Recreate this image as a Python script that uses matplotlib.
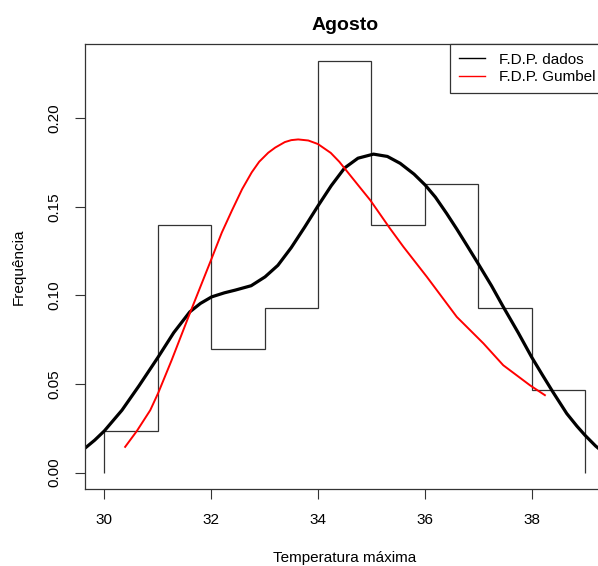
import numpy as np
import matplotlib
matplotlib.use("Agg")
import matplotlib.pyplot as plt
from matplotlib.lines import Line2D

plt.rcParams['font.family'] = ['Liberation Sans', 'DejaVu Sans']

# histogram (relative frequency per 1 degree class)
edges = [30, 31, 32, 33, 34, 35, 36, 37, 38, 39]
freq = [0.0233, 0.1395, 0.0698, 0.0930, 0.2326, 0.1395, 0.1628, 0.0930, 0.0465]

# F.D.P. dados (kernel density)
dens_x = [29.64, 29.82, 30.00, 30.33, 30.65, 31.01, 31.30, 31.60, 31.80, 32.01,
          32.25, 32.45, 32.75, 33.01, 33.25, 33.50, 33.75, 34.00, 34.25, 34.50,
          34.75, 35.04, 35.30, 35.54, 35.80, 36.01, 36.20, 36.41, 36.60, 36.80,
          37.00, 37.25, 37.47, 37.75, 38.00, 38.20, 38.40, 38.66, 38.85, 39.00,
          39.20, 39.36]
dens_y = [0.0138, 0.0183, 0.0235, 0.0352, 0.0490, 0.0653, 0.0790, 0.0907, 0.0955, 0.0992,
          0.1015, 0.1030, 0.1055, 0.1105, 0.1170, 0.1270, 0.1385, 0.1505, 0.1620, 0.1720,
          0.1775, 0.1798, 0.1785, 0.1746, 0.1685, 0.1623, 0.1555, 0.1463, 0.1375, 0.1278,
          0.1180, 0.1055, 0.0936, 0.0790, 0.0653, 0.0553, 0.0455, 0.0333, 0.0262, 0.0211,
          0.0150, 0.0110]

# F.D.P. Gumbel
gum_x = [30.39, 30.61, 30.86, 31.01, 31.26, 31.60, 32.01, 32.20, 32.39, 32.58,
         32.76, 32.90, 33.07, 33.20, 33.38, 33.50, 33.63, 33.82, 34.00, 34.24,
         34.40, 34.60, 34.80, 34.98, 35.35, 35.60, 36.04, 36.60, 37.10, 37.47,
         37.97, 38.25]
gum_y = [0.0145, 0.0235, 0.0352, 0.0450, 0.0634, 0.0898, 0.1209, 0.1355, 0.1480, 0.1600,
         0.1695, 0.1755, 0.1806, 0.1835, 0.1866, 0.1877, 0.1881, 0.1875, 0.1855, 0.1805,
         0.1755, 0.1680, 0.1605, 0.1538, 0.1378, 0.1275, 0.1105, 0.0879, 0.0729, 0.0606,
         0.0493, 0.0437]

fig = plt.figure(figsize=(5.98, 5.66), dpi=100)
# the right part of the plot box falls outside the saved picture
ax = fig.add_axes([0.1423, 0.136, 0.868, 0.786])

ax.stairs(freq, edges, baseline=0, color='#333333', lw=0.9)
ax.plot(dens_x, dens_y, color='black', lw=2.3)
ax.plot(gum_x, gum_y, color='red', lw=1.4)

ax.set_xlim(29.64, 39.36)
ax.set_ylim(-0.0093, 0.2419)
ax.set_xticks([30, 32, 34, 36, 38])
ax.set_yticks([0.0, 0.05, 0.10, 0.15, 0.20])
ax.set_yticklabels(['0.00', '0.05', '0.10', '0.15', '0.20'], rotation=90, va='center')
ax.tick_params(length=7, width=0.8, labelsize=11, pad=10, color='#333333')
for s in ax.spines.values():
    s.set_linewidth(0.9)
    s.set_color('#333333')

ax.set_title('Agosto', fontsize=14, fontweight='bold', pad=10)
ax.set_xlabel('Temperatura máxima', fontsize=11, labelpad=17.5)
ax.set_ylabel('Frequência', fontsize=11, labelpad=16)

handles = [Line2D([], [], color='black', lw=1), Line2D([], [], color='red', lw=1)]
leg = ax.legend(handles, ['F.D.P. dados', 'F.D.P. Gumbel'], loc='upper right',
                borderaxespad=0, fontsize=11, fancybox=False, framealpha=1,
                edgecolor='#333333', handlelength=1.7, handletextpad=0.95,
                labelspacing=0.25, borderpad=0.55)
leg.get_frame().set_linewidth(0.9)

fig.savefig('out.png', dpi=100)
